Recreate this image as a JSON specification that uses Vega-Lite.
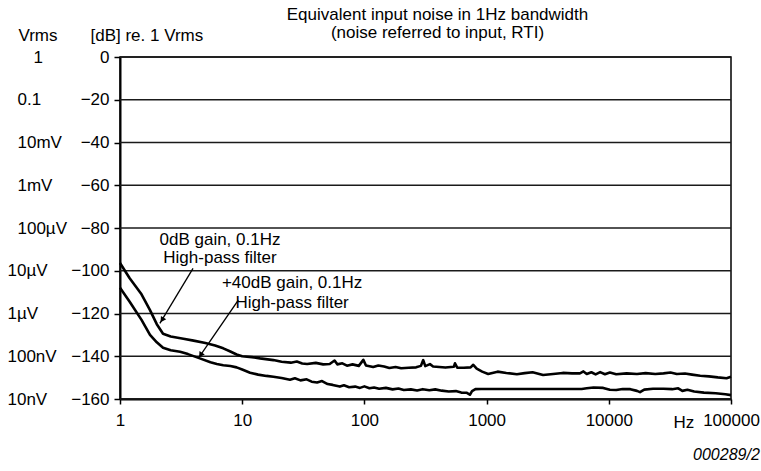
{
  "$schema": "https://vega.github.io/schema/vega-lite/v6.json",
  "width": 611,
  "height": 342,
  "autosize": "none",
  "padding": {"left": 120, "top": 57, "right": 30, "bottom": 72},
  "background": "white",
  "config": {
    "font": "Liberation Sans",
    "view": {"stroke": "black", "strokeWidth": 1.5}
  },
  "title": {
    "text": ["Equivalent input noise in 1Hz bandwidth", "(noise referred to input, RTI)"],
    "fontSize": 17,
    "fontWeight": "normal",
    "color": "black",
    "lineHeight": 18,
    "anchor": "middle",
    "dx": 12,
    "dy": 20,
    "offset": 4
  },
  "datasets": {
    "grid": [
      {"db": 0}, {"db": -20}, {"db": -40}, {"db": -60}, {"db": -80},
      {"db": -100}, {"db": -120}, {"db": -140}, {"db": -160}
    ],
    "curves": [
      {"s": "0dB", "f": 1, "db": -96.4},
      {"s": "0dB", "f": 1.2, "db": -103.5},
      {"s": "0dB", "f": 1.5, "db": -111},
      {"s": "0dB", "f": 1.76, "db": -118.4},
      {"s": "0dB", "f": 2.0, "db": -125},
      {"s": "0dB", "f": 2.25, "db": -129.5},
      {"s": "0dB", "f": 2.6, "db": -130.8},
      {"s": "0dB", "f": 3.3, "db": -131.8},
      {"s": "0dB", "f": 4.0, "db": -132.7},
      {"s": "0dB", "f": 5, "db": -133.8},
      {"s": "0dB", "f": 6, "db": -135},
      {"s": "0dB", "f": 7, "db": -136.3},
      {"s": "0dB", "f": 8, "db": -137.8},
      {"s": "0dB", "f": 9, "db": -139.2},
      {"s": "0dB", "f": 10, "db": -140},
      {"s": "0dB", "f": 12, "db": -140.4},
      {"s": "0dB", "f": 14, "db": -141},
      {"s": "0dB", "f": 18, "db": -141.8},
      {"s": "0dB", "f": 21, "db": -142.6},
      {"s": "0dB", "f": 25, "db": -143},
      {"s": "0dB", "f": 28, "db": -142.5},
      {"s": "0dB", "f": 31, "db": -143.4},
      {"s": "0dB", "f": 34, "db": -143.6},
      {"s": "0dB", "f": 40, "db": -143.1},
      {"s": "0dB", "f": 46, "db": -143.8},
      {"s": "0dB", "f": 52, "db": -143.6},
      {"s": "0dB", "f": 57, "db": -142},
      {"s": "0dB", "f": 60, "db": -143.8},
      {"s": "0dB", "f": 66, "db": -143.3},
      {"s": "0dB", "f": 72, "db": -144.4},
      {"s": "0dB", "f": 80, "db": -143.8},
      {"s": "0dB", "f": 90, "db": -144.5},
      {"s": "0dB", "f": 98, "db": -141.7},
      {"s": "0dB", "f": 103, "db": -144.3},
      {"s": "0dB", "f": 118, "db": -145},
      {"s": "0dB", "f": 130, "db": -144.3},
      {"s": "0dB", "f": 145, "db": -144.8},
      {"s": "0dB", "f": 160, "db": -145.5},
      {"s": "0dB", "f": 180, "db": -145},
      {"s": "0dB", "f": 200, "db": -145.6},
      {"s": "0dB", "f": 230, "db": -145.4},
      {"s": "0dB", "f": 265, "db": -145.2},
      {"s": "0dB", "f": 290, "db": -144.5},
      {"s": "0dB", "f": 303, "db": -141.8},
      {"s": "0dB", "f": 315, "db": -144.6},
      {"s": "0dB", "f": 344, "db": -143.7},
      {"s": "0dB", "f": 365, "db": -144.8},
      {"s": "0dB", "f": 410, "db": -145},
      {"s": "0dB", "f": 460, "db": -145.3},
      {"s": "0dB", "f": 510, "db": -145},
      {"s": "0dB", "f": 540, "db": -144.9},
      {"s": "0dB", "f": 551, "db": -143.3},
      {"s": "0dB", "f": 575, "db": -145.3},
      {"s": "0dB", "f": 650, "db": -145.4},
      {"s": "0dB", "f": 740, "db": -145.2},
      {"s": "0dB", "f": 778, "db": -144},
      {"s": "0dB", "f": 830, "db": -145.8},
      {"s": "0dB", "f": 920, "db": -147.2},
      {"s": "0dB", "f": 1030, "db": -148.3},
      {"s": "0dB", "f": 1230, "db": -147.2},
      {"s": "0dB", "f": 1450, "db": -147.8},
      {"s": "0dB", "f": 1770, "db": -148.4},
      {"s": "0dB", "f": 2050, "db": -147.9},
      {"s": "0dB", "f": 2380, "db": -147.5},
      {"s": "0dB", "f": 2900, "db": -148.8},
      {"s": "0dB", "f": 3500, "db": -148.3},
      {"s": "0dB", "f": 4200, "db": -147.8},
      {"s": "0dB", "f": 5000, "db": -148},
      {"s": "0dB", "f": 5800, "db": -148},
      {"s": "0dB", "f": 6200, "db": -147.1},
      {"s": "0dB", "f": 6600, "db": -148.3},
      {"s": "0dB", "f": 7200, "db": -147.5},
      {"s": "0dB", "f": 7800, "db": -148.5},
      {"s": "0dB", "f": 8500, "db": -147.4},
      {"s": "0dB", "f": 9300, "db": -148.4},
      {"s": "0dB", "f": 10200, "db": -147.6},
      {"s": "0dB", "f": 11500, "db": -148.4},
      {"s": "0dB", "f": 14000, "db": -148},
      {"s": "0dB", "f": 17000, "db": -148.3},
      {"s": "0dB", "f": 20000, "db": -147.9},
      {"s": "0dB", "f": 24000, "db": -148.3},
      {"s": "0dB", "f": 28000, "db": -148},
      {"s": "0dB", "f": 32000, "db": -147.6},
      {"s": "0dB", "f": 36000, "db": -148.3},
      {"s": "0dB", "f": 42000, "db": -148.1},
      {"s": "0dB", "f": 48000, "db": -148.6},
      {"s": "0dB", "f": 56000, "db": -149.1},
      {"s": "0dB", "f": 66000, "db": -149.4},
      {"s": "0dB", "f": 78000, "db": -149.9},
      {"s": "0dB", "f": 92000, "db": -150.3},
      {"s": "0dB", "f": 100000, "db": -149.6},
      {"s": "40dB", "f": 1, "db": -108},
      {"s": "40dB", "f": 1.2, "db": -114.5},
      {"s": "40dB", "f": 1.5, "db": -123},
      {"s": "40dB", "f": 1.76, "db": -130},
      {"s": "40dB", "f": 2.0, "db": -133.5},
      {"s": "40dB", "f": 2.25, "db": -136},
      {"s": "40dB", "f": 2.6, "db": -137.2},
      {"s": "40dB", "f": 3.1, "db": -137.9},
      {"s": "40dB", "f": 3.6, "db": -139},
      {"s": "40dB", "f": 4.5, "db": -141},
      {"s": "40dB", "f": 5.5, "db": -142.8},
      {"s": "40dB", "f": 6.2, "db": -143.6},
      {"s": "40dB", "f": 7, "db": -144.2},
      {"s": "40dB", "f": 8, "db": -144.6},
      {"s": "40dB", "f": 9, "db": -145.2},
      {"s": "40dB", "f": 10, "db": -146.2},
      {"s": "40dB", "f": 11.6, "db": -147.7},
      {"s": "40dB", "f": 13.5, "db": -148.6},
      {"s": "40dB", "f": 15.8, "db": -149.2},
      {"s": "40dB", "f": 18, "db": -149.6},
      {"s": "40dB", "f": 21, "db": -150.2},
      {"s": "40dB", "f": 24.6, "db": -151},
      {"s": "40dB", "f": 27, "db": -150.3},
      {"s": "40dB", "f": 30, "db": -151.3},
      {"s": "40dB", "f": 33.7, "db": -150.8},
      {"s": "40dB", "f": 37, "db": -151.9},
      {"s": "40dB", "f": 41, "db": -152.3},
      {"s": "40dB", "f": 45, "db": -151.6},
      {"s": "40dB", "f": 50, "db": -153},
      {"s": "40dB", "f": 55, "db": -153.4},
      {"s": "40dB", "f": 63, "db": -154.2},
      {"s": "40dB", "f": 68, "db": -153.6},
      {"s": "40dB", "f": 75, "db": -154.5},
      {"s": "40dB", "f": 84, "db": -154.2},
      {"s": "40dB", "f": 92, "db": -154.8},
      {"s": "40dB", "f": 100, "db": -154.1},
      {"s": "40dB", "f": 110, "db": -155},
      {"s": "40dB", "f": 120, "db": -154.6},
      {"s": "40dB", "f": 132, "db": -155.2},
      {"s": "40dB", "f": 150, "db": -154.8},
      {"s": "40dB", "f": 170, "db": -155.5},
      {"s": "40dB", "f": 190, "db": -155.1},
      {"s": "40dB", "f": 210, "db": -155.8},
      {"s": "40dB", "f": 240, "db": -155.5},
      {"s": "40dB", "f": 270, "db": -156},
      {"s": "40dB", "f": 300, "db": -155.4},
      {"s": "40dB", "f": 340, "db": -155.9},
      {"s": "40dB", "f": 380, "db": -155.5},
      {"s": "40dB", "f": 430, "db": -156.1},
      {"s": "40dB", "f": 490, "db": -156.5},
      {"s": "40dB", "f": 560, "db": -156.3},
      {"s": "40dB", "f": 620, "db": -157},
      {"s": "40dB", "f": 690, "db": -157.1},
      {"s": "40dB", "f": 730, "db": -158},
      {"s": "40dB", "f": 760, "db": -156.3},
      {"s": "40dB", "f": 810, "db": -155.4},
      {"s": "40dB", "f": 900, "db": -155.3},
      {"s": "40dB", "f": 2000, "db": -155.3},
      {"s": "40dB", "f": 4000, "db": -155.3},
      {"s": "40dB", "f": 6000, "db": -155.3},
      {"s": "40dB", "f": 6600, "db": -155},
      {"s": "40dB", "f": 7500, "db": -154.6},
      {"s": "40dB", "f": 9000, "db": -154.8},
      {"s": "40dB", "f": 10200, "db": -155.7},
      {"s": "40dB", "f": 11500, "db": -155.8},
      {"s": "40dB", "f": 13000, "db": -155.3},
      {"s": "40dB", "f": 15000, "db": -155.4},
      {"s": "40dB", "f": 17000, "db": -156.2},
      {"s": "40dB", "f": 18000, "db": -156.8},
      {"s": "40dB", "f": 19500, "db": -155.6},
      {"s": "40dB", "f": 23000, "db": -155.2},
      {"s": "40dB", "f": 28000, "db": -155.2},
      {"s": "40dB", "f": 33000, "db": -155.4},
      {"s": "40dB", "f": 37000, "db": -155},
      {"s": "40dB", "f": 40000, "db": -156.2},
      {"s": "40dB", "f": 44000, "db": -155.7},
      {"s": "40dB", "f": 50000, "db": -156.5},
      {"s": "40dB", "f": 60000, "db": -157},
      {"s": "40dB", "f": 75000, "db": -157.3},
      {"s": "40dB", "f": 90000, "db": -157.8},
      {"s": "40dB", "f": 100000, "db": -158.2}
    ],
    "notes": [
      {"f": 6.58, "db": -85.8, "label": "0dB gain, 0.1Hz"},
      {"f": 6.58, "db": -94.0, "label": "High-pass filter"},
      {"f": 25.6, "db": -105.9, "label": "+40dB gain, 0.1Hz"},
      {"f": 25.6, "db": -115.0, "label": "High-pass filter"}
    ],
    "arrows": [
      {"f": 3.96, "db": -98.9, "f2": 2.12, "db2": -124.6},
      {"f": 9.29, "db": -113.7, "f2": 4.37, "db2": -141.0}
    ],
    "heads": [
      {"f": 2.21, "db": -123.0},
      {"f": 4.57, "db": -139.4}
    ],
    "code": [
      {"f": 172000, "db": -186.2, "label": "000289/2"}
    ]
  },
  "layer": [
    {
      "data": {"name": "grid"},
      "mark": {"type": "rule", "color": "#1a1a1a", "strokeWidth": 1.5},
      "encoding": {
        "y": {
          "field": "db",
          "type": "quantitative",
          "scale": {"domain": [-160, 0], "nice": false, "zero": false},
          "axis": {
            "orient": "left",
            "values": [0, -20, -40, -60, -80, -100, -120, -140, -160],
            "domain": false,
            "ticks": false,
            "tickSize": 0,
            "grid": false,
            "labelAlign": "left",
            "labelPadding": {"condition": [{"test": "datum.value == 0", "value": 87}, {"test": "datum.value >= -80", "value": 103}], "value": 113},
            "labelFontSize": 17,
            "labelColor": "black",
            "labelExpr": "datum.value == 0 ? '1' : datum.value == -20 ? '0.1' : datum.value == -40 ? '10mV' : datum.value == -60 ? '1mV' : datum.value == -80 ? '100µV' : datum.value == -100 ? '10µV' : datum.value == -120 ? '1µV' : datum.value == -140 ? '100nV' : '10nV'",
            "title": "Vrms",
            "titleAngle": 0,
            "titleAlign": "left",
            "titleBaseline": "middle",
            "titleX": -102,
            "titleY": -22,
            "titleFontSize": 17,
            "titleFontWeight": "normal",
            "titleColor": "black"
          }
        }
      }
    },
    {
      "encoding": {
        "x": {
          "field": "f",
          "type": "quantitative",
          "scale": {"type": "log", "domain": [1, 100000], "nice": false},
          "axis": {
            "values": [1, 10, 100, 1000, 10000, 100000],
            "format": "d",
            "grid": false,
            "labelFlush": false,
            "labelOverlap": false,
            "domainColor": "black",
            "domainWidth": 2,
            "tickColor": "black",
            "tickWidth": 1.5,
            "tickSize": 5,
            "labelFontSize": 17,
            "labelColor": "black",
            "labelPadding": 8,
            "title": "Hz",
            "titleFontSize": 17,
            "titleFontWeight": "normal",
            "titleColor": "black",
            "titleAlign": "left",
            "titleBaseline": "middle",
            "titleX": 553,
            "titleY": 23
          }
        },
        "y": {
          "field": "db",
          "type": "quantitative",
          "scale": {"domain": [-160, 0], "nice": false, "zero": false},
          "axis": {
            "orient": "left",
            "values": [0, -20, -40, -60, -80, -100, -120, -140, -160],
            "labelExpr": "datum.value < 0 ? '−' + abs(datum.value) : '0'",
            "grid": false,
            "labelFlush": false,
            "domainColor": "black",
            "domainWidth": 2,
            "tickColor": "black",
            "tickWidth": 1.5,
            "tickSize": 6,
            "labelPadding": 5,
            "labelFontSize": 17,
            "labelColor": "black",
            "title": "[dB] re. 1 Vrms",
            "titleAngle": 0,
            "titleAlign": "left",
            "titleBaseline": "middle",
            "titleX": -30,
            "titleY": -22,
            "titleFontSize": 17,
            "titleFontWeight": "normal",
            "titleColor": "black"
          }
        }
      },
      "layer": [
        {
          "data": {"name": "curves"},
          "mark": {"type": "line", "color": "black", "strokeWidth": 2.6, "strokeJoin": "round"},
          "encoding": {"detail": {"field": "s", "type": "nominal"}}
        },
        {
          "data": {"name": "arrows"},
          "mark": {"type": "rule", "color": "black", "strokeWidth": 1.3},
          "encoding": {
            "x2": {"field": "f2"},
            "y2": {"field": "db2"}
          }
        },
        {
          "data": {"name": "heads"},
          "mark": {"type": "point", "shape": "triangle-up", "filled": true, "color": "black", "opacity": 1, "size": 40, "angle": 213},
          "encoding": {}
        },
        {
          "data": {"name": "notes"},
          "mark": {"type": "text", "fontSize": 17, "color": "black", "align": "center", "baseline": "middle"},
          "encoding": {"text": {"field": "label"}}
        },
        {
          "data": {"name": "code"},
          "mark": {"type": "text", "fontSize": 16, "fontStyle": "italic", "color": "black", "align": "right", "baseline": "middle"},
          "encoding": {"text": {"field": "label"}}
        }
      ]
    }
  ],
  "resolve": {"scale": {"y": "independent"}, "axis": {"y": "independent"}}
}
